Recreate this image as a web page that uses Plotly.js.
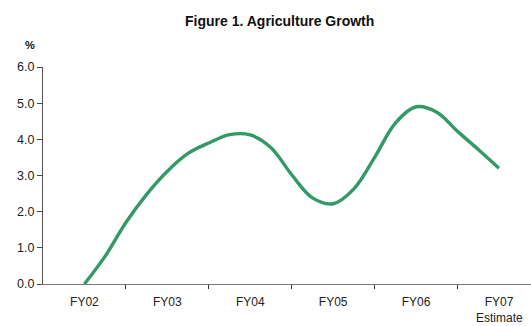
<!DOCTYPE html>
<html>
<head>
<meta charset="utf-8">
<script src="https://cdn.plot.ly/plotly-3.0.1.min.js"></script>
<style>
  html, body { margin: 0; padding: 0; background: #fff; }
  #chart { width: 531px; height: 326px; }
</style>
</head>
<body>
<div id="chart"></div>
<script>
// Fiscal years on the category axis
const fiscalYears = ["FY02", "FY03", "FY04", "FY05", "FY06", "FY07"];
const estimateNote = "Estimate";

// Quarter-step positions along the fiscal-year axis (0 = FY02)
const period = [0, 0.25, 0.5, 0.75, 1, 1.25, 1.5, 1.75, 2, 2.25, 2.5,
                2.75, 3, 3.25, 3.5, 3.75, 4, 4.25, 4.5, 4.75, 5];

// Agriculture growth, %
const growth = [0.0, 0.77, 1.7, 2.48, 3.12, 3.61, 3.90, 4.13, 4.12, 3.77, 3.02,
                2.38, 2.22, 2.63, 3.5, 4.45, 4.9, 4.75, 4.22, 3.72, 3.2];

const yearPos = fiscalYears.map((_, i) => i);
const boundaries = fiscalYears.slice(0, -1).map((_, i) => i + 0.5);

const font = "Arial, 'Liberation Sans', sans-serif";
const axisColor = "#7a7a7a";

const trace = {
  x: period,
  y: growth,
  type: "scatter",
  mode: "lines",
  line: { color: "#339966", width: 3.4, shape: "spline", smoothing: 1 },
  hoverinfo: "skip"
};

const layout = {
  width: 531,
  height: 326,
  margin: { l: 43, r: 0, t: 67, b: 42 },
  paper_bgcolor: "#ffffff",
  plot_bgcolor: "#ffffff",
  showlegend: false,
  font: { family: font, color: "#222", size: 12 },
  title: {
    text: "<b>Figure 1. Agriculture Growth</b>",
    font: { family: font, size: 14, color: "#111" },
    x: 0.485, xref: "paper", xanchor: "center",
    y: 1 - 21 / 326, yref: "container", yanchor: "middle"
  },
  xaxis: {
    range: [-0.5, 5.386],
    tickvals: yearPos,
    ticktext: fiscalYears,
    ticks: "",
    ticklabelstandoff: 6,
    showgrid: false,
    zeroline: false,
    showline: true,
    linecolor: axisColor,
    linewidth: 1.3,
    tickfont: { size: 12, color: "#222" },
    minor: {
      tickvals: boundaries,
      ticks: "outside",
      ticklen: 4,
      tickcolor: "#333",
      tickwidth: 1,
      showgrid: false
    },
    fixedrange: true
  },
  yaxis: {
    range: [0, 6],
    dtick: 1,
    tick0: 0,
    tickformat: ".1f",
    ticks: "outside",
    ticklen: 5,
    tickcolor: "#444",
    showgrid: false,
    zeroline: false,
    showline: true,
    linecolor: "#555",
    linewidth: 1,
    tickfont: { size: 12.5, color: "#222" },
    fixedrange: true
  },
  annotations: [
    {
      text: "<b>%</b>",
      xref: "paper", yref: "paper",
      x: -13 / 488, y: (284 - 45) / 217,
      xanchor: "center", yanchor: "middle",
      showarrow: false,
      font: { family: font, size: 11, color: "#111" }
    },
    {
      text: estimateNote,
      xref: "x", yref: "paper",
      x: 5, y: (284 - 318) / 217,
      xanchor: "center", yanchor: "middle",
      showarrow: false,
      font: { family: font, size: 12, color: "#222" }
    }
  ]
};

Plotly.newPlot("chart", [trace], layout, { displayModeBar: false, staticPlot: true });
</script>
</body>
</html>
